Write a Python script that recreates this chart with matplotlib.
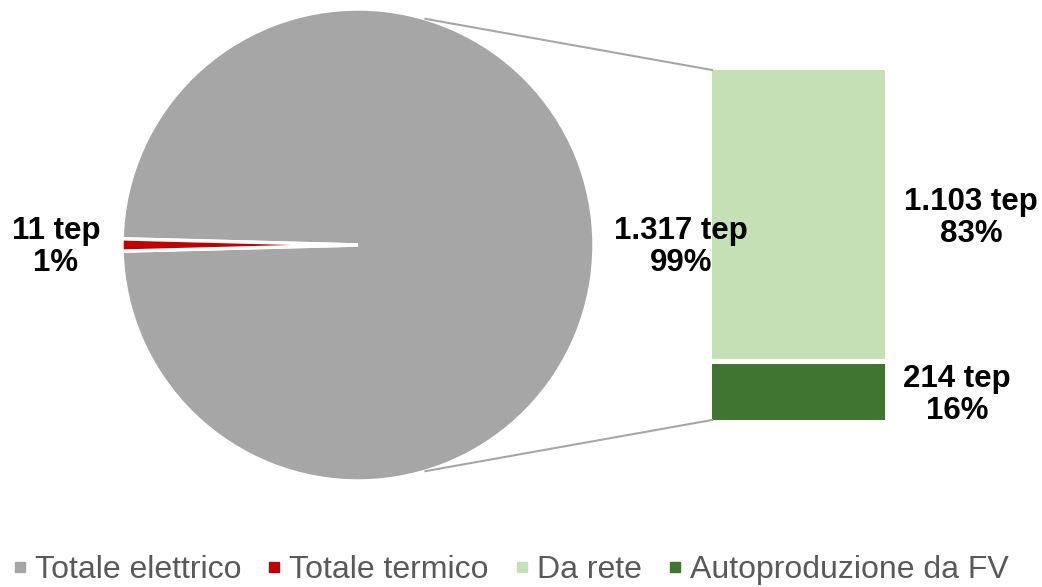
import numpy as np
import matplotlib.pyplot as plt
from matplotlib.lines import Line2D

plt.rcParams['font.family'] = ['Liberation Sans', 'DejaVu Sans']

# dati (tep)
pie_labels = ['Totale elettrico', 'Totale termico']
pie_values = [1317, 11]
pie_colors = ['#a6a6a6', '#c00000']

bar_labels = ['Da rete', 'Autoproduzione da FV']
bar_values = [1103, 214]
bar_colors = ['#c5e0b4', '#3f7530']

def fmt(v):
    return f'{v:,}'.replace(',', '.') + ' tep'

W, H = 1042, 587
fig = plt.figure(figsize=(W / 100, H / 100), dpi=100)
ax = fig.add_axes([0, 0, 1, 1])

# torta
cx, cy, r = 358, 342, 236
tot = sum(pie_values)
small = pie_values[1] / tot * 360
ax.pie(pie_values, colors=pie_colors, center=(cx, cy), radius=r,
       startangle=180 - small / 2, counterclock=False,
       wedgeprops=dict(edgecolor='white', linewidth=2.5), frame=True)
ax.set_xlim(0, W)
ax.set_ylim(0, H)
ax.set_aspect('equal')
ax.axis('off')

# barra
bx0, bw = 712, 173
y0 = 167
scale = 345 / pie_values[0]
gap = 5
h_fv = bar_values[1] * scale
h_rete = bar_values[0] * scale
ax.bar(bx0 + bw / 2, h_fv, width=bw, bottom=y0, color=bar_colors[1])
ax.bar(bx0 + bw / 2, h_rete, width=bw, bottom=y0 + h_fv + gap, color=bar_colors[0])
top = y0 + h_fv + gap + h_rete

# linee di collegamento
ang = np.deg2rad(73.4)
ax.plot([cx + r * np.cos(ang), bx0], [cy + r * np.sin(ang), top], color='#a6a6a6', lw=1.5)
ax.plot([cx + r * np.cos(ang), bx0], [cy - r * np.sin(ang), y0], color='#a6a6a6', lw=1.5)

# etichette (percentuali sul totale)
fs = 22.5
ls = 1.1
pcts = [round(v / tot * 100) for v in pie_values]
bp = [round(v / tot * 100) for v in bar_values]
ax.text(681, 340, f'{fmt(pie_values[0])}\n{pcts[0]}%', ha='center', va='center',
        fontsize=fs, fontweight='bold', linespacing=ls)
ax.text(56, 340, f'{fmt(pie_values[1])}\n{pcts[1]}%', ha='center', va='center',
        fontsize=fs, fontweight='bold', linespacing=ls)
ax.text(971, 369, f'{fmt(bar_values[0])}\n{bp[0]}%', ha='center', va='center',
        fontsize=fs, fontweight='bold', linespacing=ls)
ax.text(957, 192, f'{fmt(bar_values[1])}\n{bp[1]}%', ha='center', va='center',
        fontsize=fs, fontweight='bold', linespacing=ls)

# legenda
names = pie_labels + bar_labels
cols = pie_colors + bar_colors
handles = [Line2D([], [], marker='s', color=c, lw=0, markersize=7.2) for c in cols]
leg = fig.legend(handles, names, loc='lower center', bbox_to_anchor=(0.49, -0.018),
                 ncol=4, frameon=False, fontsize=23, handlelength=0.45,
                 handletextpad=0.25, columnspacing=0.8, borderaxespad=0)
for t in leg.get_texts():
    t.set_color('#595959')

fig.savefig('out.png', dpi=100)
